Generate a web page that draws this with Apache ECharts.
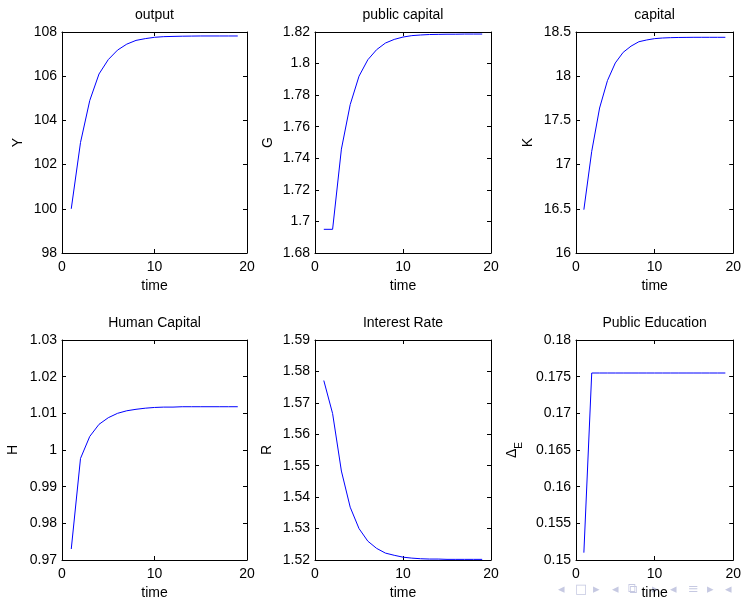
<!DOCTYPE html>
<html>
<head>
<meta charset="utf-8">
<script src="https://cdn.jsdelivr.net/npm/echarts@6/dist/echarts.min.js"></script>
<style>
  body { margin: 0; background: #ffffff; }
  #chart { width: 744px; height: 601px; }
</style>
</head>
<body>
<div id="chart"></div>
<script>
var periods = [1, 2, 3, 4, 5, 6, 7, 8, 9, 10, 11, 12, 13, 14, 15, 16, 17, 18, 19];

var outputY = [100, 103.0, 104.9, 106.1, 106.75, 107.18, 107.45, 107.62, 107.7, 107.76,
  107.79, 107.8, 107.81, 107.815, 107.82, 107.82, 107.82, 107.82, 107.82];
var publicCapitalG = [1.695, 1.695, 1.7458, 1.774, 1.792, 1.8024, 1.8088, 1.813, 1.8153, 1.8168,
  1.8177, 1.8181, 1.8184, 1.8185, 1.8186, 1.8186, 1.8187, 1.8187, 1.8187];
var capitalK = [16.49, 17.15, 17.64, 17.95, 18.15, 18.27, 18.34, 18.39, 18.41, 18.425,
  18.432, 18.436, 18.438, 18.439, 18.44, 18.44, 18.44, 18.44, 18.44];
var humanCapitalH = [0.973, 0.9977, 1.0037, 1.007, 1.0088, 1.01, 1.0107, 1.0111, 1.0114, 1.0116,
  1.0117, 1.0117, 1.0118, 1.0118, 1.0118, 1.0118, 1.0118, 1.0118, 1.0118];
var interestR = [1.5771, 1.5666, 1.5483, 1.5368, 1.53, 1.526, 1.5237, 1.5222, 1.5215, 1.5209,
  1.5206, 1.5204, 1.5203, 1.5203, 1.5202, 1.5202, 1.5202, 1.5202, 1.5202];
var publicEduShare = [0.151, 0.1755, 0.1755, 0.1755, 0.1755, 0.1755, 0.1755, 0.1755, 0.1755, 0.1755,
  0.1755, 0.1755, 0.1755, 0.1755, 0.1755, 0.1755, 0.1755, 0.1755, 0.1755];

var titles = ['output', 'public capital', 'capital', 'Human Capital', 'Interest Rate', 'Public Education'];
var yNames = ['Y', 'G', 'K', 'H', 'R', '{d|Δ}{e|E}'];
var yMin = [98, 1.68, 16, 0.97, 1.52, 0.15];
var yMax = [108, 1.82, 18.5, 1.03, 1.59, 0.18];
var yStep = [2, 0.02, 0.5, 0.01, 0.01, 0.005];
var seriesData = [outputY, publicCapitalG, capitalK, humanCapitalH, interestR, publicEduShare];

// plot boxes (MATLAB subplot layout)
var boxes = [
  { left: 62, top: 32, width: 185, height: 221 },
  { left: 315, top: 32, width: 176, height: 221 },
  { left: 576, top: 32, width: 159, height: 221 },
  { left: 62, top: 340, width: 185, height: 223 },
  { left: 315, top: 340, width: 176, height: 223 },
  { left: 576, top: 340, width: 159, height: 223 }
];
var nameGaps = [37, 40, 41, 42, 41, 52];

var font = 'Liberation Sans, Arial, sans-serif';
var black = '#000000';

var grid = [], xAxis = [], yAxis = [], series = [];

boxes.forEach(function (b, i) {
  grid.push(b);
  var lineStyle = { color: black, width: 1 };
  xAxis.push({
    gridIndex: i, type: 'value', min: 0, max: 20, interval: 10,
    name: 'time', nameLocation: 'middle', nameGap: 26,
    nameTextStyle: { color: black, fontSize: 14, fontFamily: font },
    axisLine: { show: true, onZero: false, lineStyle: lineStyle },
    axisTick: { show: true, inside: true, length: 4, lineStyle: lineStyle },
    axisLabel: { color: black, fontSize: 14, fontFamily: font, margin: 7 },
    splitLine: { show: false }
  });
  xAxis.push({
    gridIndex: i, type: 'value', position: 'top', min: 0, max: 20, interval: 10,
    name: titles[i], nameLocation: 'middle', nameGap: 10,
    nameTextStyle: { color: black, fontSize: 14, fontFamily: font },
    axisLine: { show: true, onZero: false, lineStyle: lineStyle },
    axisTick: { show: true, inside: true, length: 4, lineStyle: lineStyle },
    axisLabel: { show: false },
    splitLine: { show: false }
  });
  yAxis.push({
    gridIndex: i, type: 'value', min: yMin[i], max: yMax[i], interval: yStep[i],
    name: yNames[i], nameLocation: 'middle', nameGap: nameGaps[i],
    nameTextStyle: {
      color: black, fontSize: 14, fontFamily: font,
      rich: {
        d: { fontSize: 14, fontFamily: font, color: black, padding: [0, 0, 5, 0] },
        e: { fontSize: 10, fontFamily: font, color: black, verticalAlign: 'bottom' }
      }
    },
    axisLine: { show: true, onZero: false, lineStyle: lineStyle },
    axisTick: { show: true, inside: true, length: 4, lineStyle: lineStyle },
    axisLabel: { color: black, fontSize: 14, fontFamily: font, margin: 5 },
    splitLine: { show: false }
  });
  yAxis.push({
    gridIndex: i, type: 'value', position: 'right', min: yMin[i], max: yMax[i], interval: yStep[i],
    axisLine: { show: true, onZero: false, lineStyle: lineStyle },
    axisTick: { show: true, inside: true, length: 4, lineStyle: lineStyle },
    axisLabel: { show: false },
    splitLine: { show: false }
  });
  series.push({
    type: 'line',
    xAxisIndex: i * 2,
    yAxisIndex: i * 2,
    showSymbol: false,
    symbol: 'none',
    lineStyle: { color: '#0000ff', width: 1 },
    data: periods.map(function (t, k) { return [t, seriesData[i][k]]; })
  });
});

// beamer navigation symbols, bottom right
var navColor = '#c6c9e2';
var navSymbols = ['◂', '□', '▸', '◂', '⧉', '▸', '◂', '≡', '▸', '◂'];
var navX = [563, 580, 598, 617, 633, 657, 675, 693, 712, 730];

var chart = echarts.init(document.getElementById('chart'), null, { renderer: 'canvas' });
chart.setOption({
  animation: false,
  backgroundColor: '#ffffff',
  grid: grid,
  xAxis: xAxis,
  yAxis: yAxis,
  series: series,
  graphic: navSymbols.map(function (s, k) {
    return {
      type: 'text', left: navX[k] - 5, top: 583, z: -1,
      style: { text: s, fill: navColor, fontSize: 13, fontFamily: 'DejaVu Sans' }
    };
  })
});
</script>
</body>
</html>
